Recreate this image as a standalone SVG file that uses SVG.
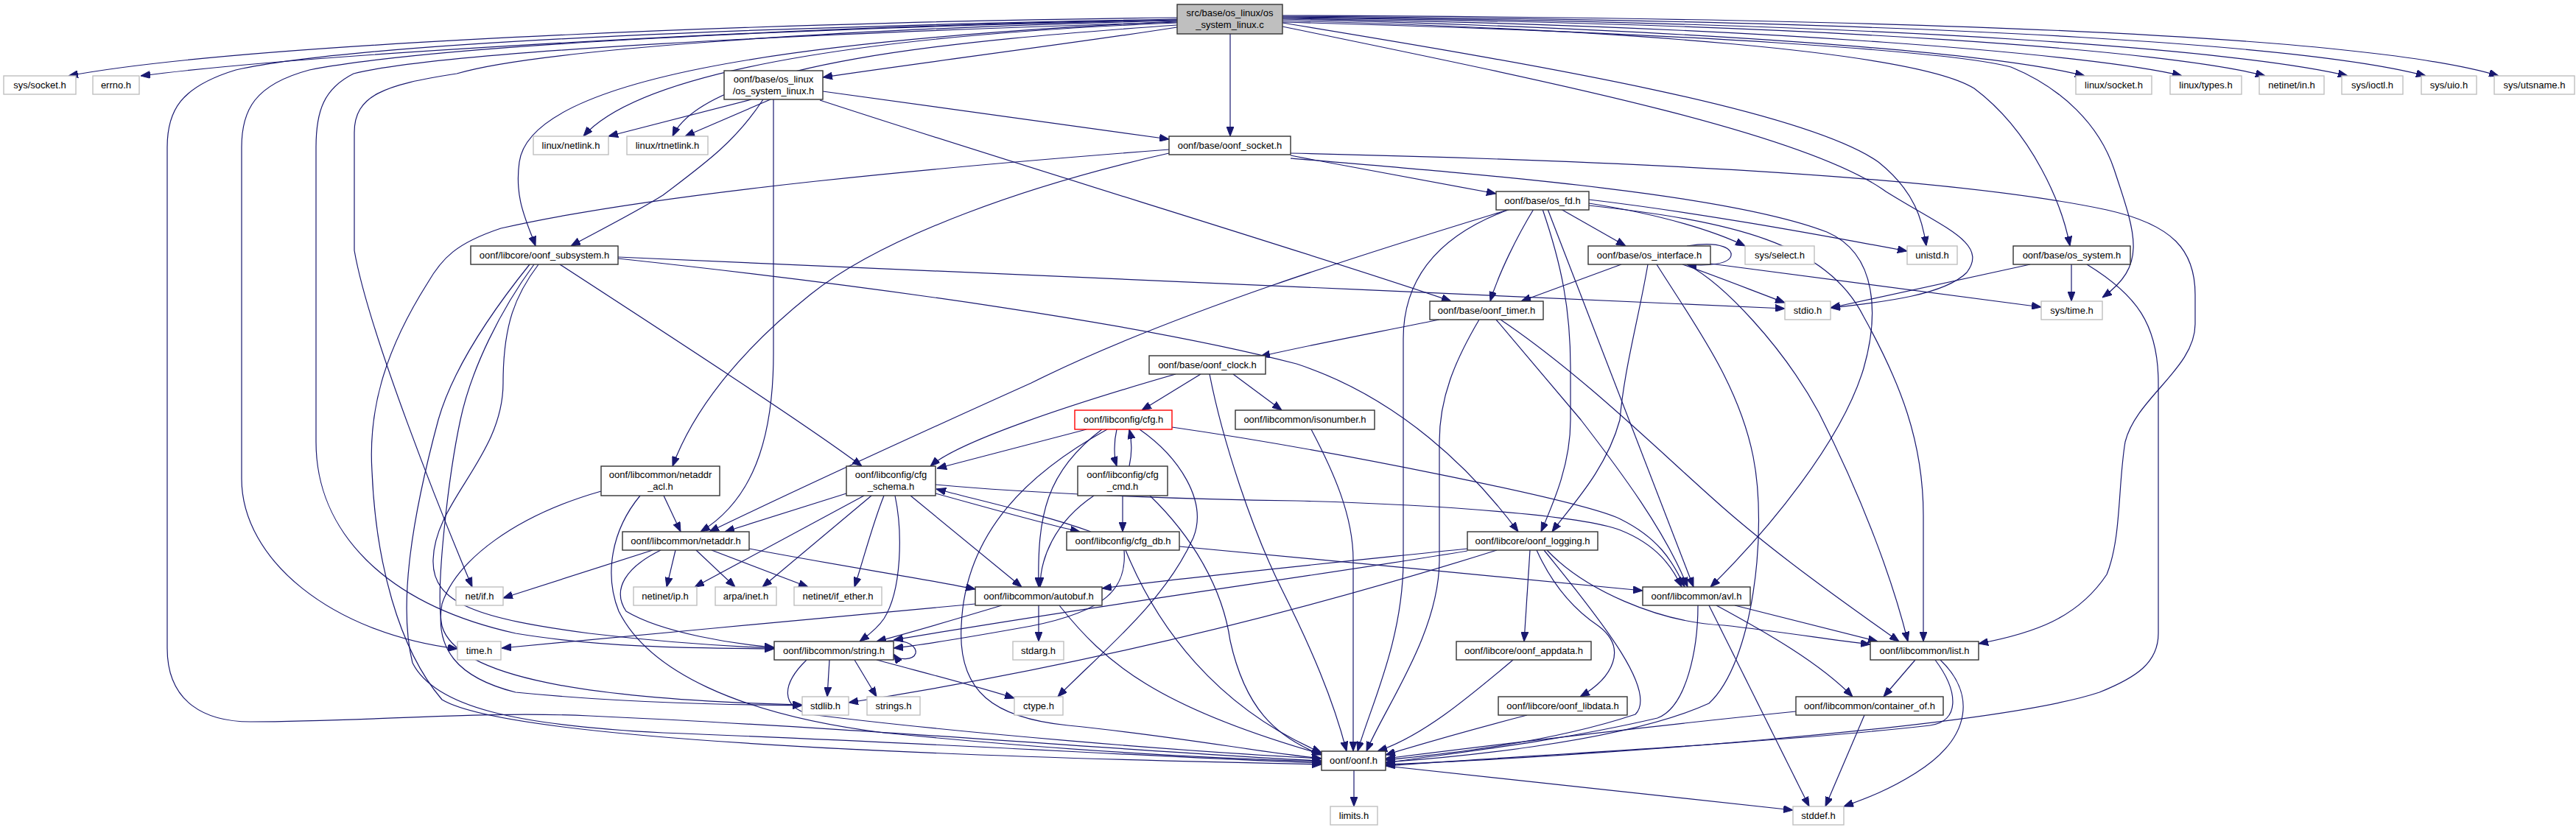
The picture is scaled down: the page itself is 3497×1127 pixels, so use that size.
<svg xmlns="http://www.w3.org/2000/svg" width="3497" height="1127" viewBox="0 0 3497 1127">
<style>
.nd rect{fill:#fff;stroke:#333;stroke-width:1.4}
.ex rect{fill:#fff;stroke:#bfbfbf;stroke-width:1.4}
.rd rect{fill:#fff;stroke:#ff0000;stroke-width:1.4}
.gy rect{fill:#bfbfbf;stroke:#333;stroke-width:1.4}
text{font-family:"Liberation Sans",Arial,sans-serif;font-size:13px;text-anchor:middle;fill:#000}
#edges path{fill:none;stroke:#191970;stroke-width:1.2;marker-end:url(#ah)}
</style>
<defs>
<marker id="ah" markerWidth="13" markerHeight="10" refX="13" refY="5" orient="auto" markerUnits="userSpaceOnUse">
<path d="M0,0 L13,5 L0,10 z" fill="#191970" stroke="#191970" stroke-width="1"/>
</marker>
</defs>
<rect width="3497" height="1127" fill="#fff"/>
<g id="edges">
<path d="M1598,24 C1150,28 350,55 93,103"/>
<path d="M1598,27 C1150,33 450,70 191,103"/>
<path d="M1598,37 C1450,60 1250,85 1117,105"/>
<path d="M1670,46 L1670,185"/>
<path d="M1598,31 C1250,45 880,85 792,185"/>
<path d="M1598,34 C1300,55 960,85 913,185"/>
<path d="M1598,29 C1050,55 720,110 705,220 C698,270 715,300 727,334"/>
<path d="M1598,28 C1100,40 720,70 620,100 C520,115 481,130 481,180 L481,340 C500,450 600,700 641,797"/>
<path d="M1598,27 C1100,38 600,60 420,95 C345,115 328,150 328,200 L328,650 C328,760 450,860 621,881"/>
<path d="M1598,30 C1100,45 600,70 480,100 C440,120 429,150 429,200 L429,600 C429,720 520,820 700,860 C820,880 950,880 1051,881"/>
<path d="M1598,26 C1100,35 500,55 320,95 C245,118 227,150 227,200 L227,880 C227,955 280,980 340,980 C500,980 650,965 800,972 C1200,990 1600,1025 1794,1033"/>
<path d="M1741,31 C2100,90 2450,150 2550,220 C2600,260 2610,300 2615,334"/>
<path d="M1741,36 C2100,110 2450,180 2560,260 C2640,310 2700,330 2670,370 C2640,400 2560,410 2485,418"/>
<path d="M1741,28 C2200,40 2600,70 2680,120 C2760,180 2800,280 2810,334"/>
<path d="M1741,30 C2300,45 2650,70 2730,91 C2800,120 2850,170 2870,230 C2900,320 2915,360 2854,404"/>
<path d="M1741,26 C2300,40 2700,70 2830,103"/>
<path d="M1741,25 C2400,35 2850,75 2962,103"/>
<path d="M1741,24 C2500,32 2950,70 3075,103"/>
<path d="M1741,23 C2600,30 3050,70 3187,103"/>
<path d="M1741,22 C2700,28 3150,65 3293,103"/>
<path d="M1741,21 C2800,25 3250,60 3392,103"/>
<path d="M1020,135 L826,185"/>
<path d="M1046,135 L930,185"/>
<path d="M1036,135 C1000,190 960,220 900,265 C860,290 800,320 775,334"/>
<path d="M1050,135 L1050,480 C1050,600 1020,680 951,722"/>
<path d="M1117,124 C1300,150 1450,170 1587,189"/>
<path d="M1113,136 C1400,230 1800,350 1970,409"/>
<path d="M760,359 C900,450 1100,580 1170,633"/>
<path d="M839,351 C1200,390 1550,440 1760,494 C1900,540 2000,640 2061,722"/>
<path d="M839,349 C1300,370 1900,395 2423,419"/>
<path d="M731,359 C700,400 683,440 683,520 C683,620 590,680 588,760 C586,820 650,840 800,860 C900,872 1000,878 1051,880"/>
<path d="M725,359 C680,420 640,500 625,570 C610,640 590,800 600,850 C620,920 800,950 1089,957"/>
<path d="M719,359 C670,420 615,500 595,570 C560,700 540,820 560,900 C590,960 700,985 900,995 C1300,1010 1600,1030 1794,1036"/>
<path d="M1752,211 C1850,230 1950,248 2031,263"/>
<path d="M1587,208 C1400,250 1200,320 1100,400 C1000,480 940,560 913,633"/>
<path d="M1587,203 C1300,225 900,260 680,310 C620,330 600,350 580,385 C520,480 500,560 505,640 C510,760 540,880 600,950 C700,1010 1400,1030 1794,1038"/>
<path d="M1752,208 C2200,218 2650,240 2860,285 C2950,305 2980,340 2980,400 L2980,440 C2980,500 2900,540 2885,600 C2875,660 2880,730 2860,780 C2820,840 2760,860 2686,874"/>
<path d="M1752,215 C2050,240 2350,265 2480,315 C2550,345 2550,430 2530,500 C2500,600 2400,720 2322,797"/>
<path d="M2119,284 L2207,334"/>
<path d="M2082,284 C2060,320 2035,370 2023,409"/>
<path d="M2050,284 C1900,330 1600,420 1400,520 C1200,610 1050,680 963,722"/>
<path d="M2050,284 C1950,320 1905,380 1905,460 L1905,760 C1905,870 1860,960 1843,1020"/>
<path d="M2094,284 C2120,360 2132,420 2132,500 L2132,570 C2132,630 2110,680 2092,722"/>
<path d="M2101,284 L2299,797"/>
<path d="M2157,279 C2350,300 2480,330 2530,430 C2580,520 2611,600 2611,700 L2611,871"/>
<path d="M2157,276 C2260,292 2330,315 2369,334"/>
<path d="M2157,271 C2300,288 2450,315 2589,341"/>
<path d="M2290,334 C2340,326 2352,340 2350,347 C2348,358 2320,362 2290,359"/>
<path d="M2201,359 L2065,409"/>
<path d="M2284,359 C2330,375 2380,395 2423,411"/>
<path d="M2322,358 C2500,380 2650,400 2771,417"/>
<path d="M2237,359 C2225,430 2205,500 2199,570 C2180,640 2130,690 2107,722"/>
<path d="M2249,359 C2300,440 2360,520 2380,620 C2400,720 2380,900 2320,955 C2200,1010 1950,1030 1881,1035"/>
<path d="M2290,359 C2340,385 2420,470 2469,560 C2530,680 2570,790 2590,871"/>
<path d="M2037,434 C2150,510 2260,620 2340,690 C2420,760 2520,830 2578,871"/>
<path d="M2031,434 L2146,570 C2200,640 2260,720 2291,797"/>
<path d="M1954,434 C1850,455 1770,470 1711,484"/>
<path d="M2008,434 C1975,490 1954,540 1954,600 L1954,760 C1954,860 1880,960 1855,1020"/>
<path d="M2756,359 L2485,418"/>
<path d="M2812,359 L2812,409"/>
<path d="M2833,359 C2900,400 2930,440 2930,520 L2930,860 C2930,900 2900,920 2850,940 C2700,990 2100,1030 1881,1038"/>
<path d="M1630,508 L1550,557"/>
<path d="M1674,508 L1740,557"/>
<path d="M1596,508 C1450,550 1300,600 1263,633"/>
<path d="M1642,508 C1660,600 1700,720 1740,800 C1780,880 1810,950 1828,1020"/>
<path d="M1516,583 C1512,600 1512,620 1516,633"/>
<path d="M1533,633 C1537,615 1537,600 1533,583"/>
<path d="M1475,583 L1272,636"/>
<path d="M1496,583 C1420,640 1408,700 1410,797"/>
<path d="M1503,583 C1400,640 1310,720 1305,850 C1300,940 1350,975 1450,985 C1600,1000 1700,1020 1794,1030"/>
<path d="M1547,583 C1600,620 1640,680 1620,730 C1580,820 1490,890 1436,946"/>
<path d="M1591,580 C1800,610 2150,680 2200,705 C2250,730 2270,760 2287,797"/>
<path d="M1780,583 C1810,640 1837,700 1837,760 L1837,1020"/>
<path d="M1524,673 L1524,722"/>
<path d="M1485,673 C1430,710 1412,760 1412,797"/>
<path d="M1561,673 C1620,730 1660,800 1670,870 C1690,960 1730,1000 1794,1025"/>
<path d="M1270,670 C1350,692 1420,712 1466,722"/>
<path d="M1481,722 C1420,700 1340,682 1271,664"/>
<path d="M1149,670 L984,722"/>
<path d="M1236,673 L1387,797"/>
<path d="M1215,673 C1225,720 1225,800 1200,840 C1190,855 1175,865 1167,871"/>
<path d="M1173,673 L943,797"/>
<path d="M1183,673 L1035,797"/>
<path d="M1200,673 C1185,710 1172,760 1160,797"/>
<path d="M1270,658 C1400,670 1600,678 1760,680 C1950,685 2150,700 2200,720 C2250,740 2270,770 2283,797"/>
<path d="M901,673 L924,722"/>
<path d="M869,673 C830,720 820,780 840,830 C880,910 1000,970 1200,995 C1450,1020 1650,1030 1794,1034"/>
<path d="M816,667 C700,700 620,760 600,820 C590,880 620,920 700,940 C850,955 1000,957 1089,958"/>
<path d="M886,747 L683,812"/>
<path d="M917,747 L905,797"/>
<path d="M945,747 L998,797"/>
<path d="M966,747 L1097,797"/>
<path d="M1017,745 C1150,770 1250,785 1324,800"/>
<path d="M897,747 C850,770 830,800 850,830 C900,860 1000,875 1051,879"/>
<path d="M1324,820 C1100,840 900,860 681,880"/>
<path d="M1360,822 C1300,840 1250,855 1190,871"/>
<path d="M1410,822 L1410,871"/>
<path d="M1438,822 C1500,900 1570,960 1794,1024"/>
<path d="M1526,747 C1530,800 1500,830 1400,850 C1300,868 1250,876 1213,880"/>
<path d="M1528,747 C1570,850 1650,960 1794,1022"/>
<path d="M1601,742 C1800,760 2050,785 2230,802"/>
<path d="M1992,745 C1800,765 1600,785 1496,799"/>
<path d="M1992,748 C1800,780 1500,820 1213,869"/>
<path d="M2032,747 C1800,820 1500,900 1152,954"/>
<path d="M2077,747 L2069,871"/>
<path d="M2086,747 C2110,800 2140,830 2170,850 C2210,880 2190,920 2145,946"/>
<path d="M2096,747 C2180,850 2250,940 2220,970 C2100,1010 1950,1025 1881,1032"/>
<path d="M2100,747 C2150,800 2250,845 2340,849 C2420,858 2480,868 2539,875"/>
<path d="M1200,871 C1235,866 1245,880 1243,887 C1240,896 1220,898 1213,888"/>
<path d="M1126,896 L1123,946"/>
<path d="M1160,896 L1190,946"/>
<path d="M1190,896 C1260,915 1320,930 1377,948"/>
<path d="M1095,896 C1060,930 1060,960 1100,970 C1300,995 1600,1020 1794,1030"/>
<path d="M2054,896 C1990,950 1930,1000 1870,1020"/>
<path d="M2073,971 C2000,990 1930,1010 1881,1025"/>
<path d="M2355,822 L2549,871"/>
<path d="M2330,822 C2400,860 2470,900 2515,946"/>
<path d="M2320,822 L2456,1095"/>
<path d="M2305,822 C2305,880 2290,960 2250,975 C2100,1010 1950,1025 1881,1036"/>
<path d="M2600,896 L2557,946"/>
<path d="M2634,896 C2680,940 2680,1000 2600,1050 C2560,1075 2530,1085 2503,1095"/>
<path d="M2627,896 C2660,940 2660,980 2620,985 C2400,1010 2000,1030 1881,1040"/>
<path d="M2438,966 C2200,990 2000,1015 1881,1030"/>
<path d="M2531,971 L2478,1095"/>
<path d="M1838,1046 L1838,1095"/>
<path d="M1881,1040 C2100,1065 2300,1085 2434,1100"/>
</g>
<g id="src" class="gy"><rect x="1598" y="6" width="143" height="40"/><text x="1669.5" y="22">src/base/os_linux/os</text><text x="1669.5" y="38">_system_linux.c</text></g>
<g id="sys_socket" class="ex"><rect x="5" y="103" width="98" height="25"/><text x="54" y="120">sys/socket.h</text></g>
<g id="errno" class="ex"><rect x="126" y="103" width="63" height="25"/><text x="157.5" y="120">errno.h</text></g>
<g id="os_system_linux" class="nd"><rect x="983" y="96" width="134" height="39"/><text x="1050" y="112">oonf/base/os_linux</text><text x="1050" y="128">/os_system_linux.h</text></g>
<g id="linux_socket" class="ex"><rect x="2818" y="103" width="103" height="25"/><text x="2869.5" y="120">linux/socket.h</text></g>
<g id="linux_types" class="ex"><rect x="2946" y="103" width="97" height="25"/><text x="2994.5" y="120">linux/types.h</text></g>
<g id="netinet_in" class="ex"><rect x="3067" y="103" width="88" height="25"/><text x="3111" y="120">netinet/in.h</text></g>
<g id="sys_ioctl" class="ex"><rect x="3179" y="103" width="83" height="25"/><text x="3220.5" y="120">sys/ioctl.h</text></g>
<g id="sys_uio" class="ex"><rect x="3287" y="103" width="75" height="25"/><text x="3324.5" y="120">sys/uio.h</text></g>
<g id="sys_utsname" class="ex"><rect x="3386" y="103" width="109" height="25"/><text x="3440.5" y="120">sys/utsname.h</text></g>
<g id="linux_netlink" class="ex"><rect x="724" y="185" width="102" height="25"/><text x="775" y="202">linux/netlink.h</text></g>
<g id="linux_rtnetlink" class="ex"><rect x="851" y="185" width="110" height="25"/><text x="906" y="202">linux/rtnetlink.h</text></g>
<g id="oonf_socket" class="nd"><rect x="1587" y="185" width="165" height="25"/><text x="1669.5" y="202">oonf/base/oonf_socket.h</text></g>
<g id="os_fd" class="nd"><rect x="2031" y="260" width="126" height="25"/><text x="2094" y="277">oonf/base/os_fd.h</text></g>
<g id="oonf_subsystem" class="nd"><rect x="639" y="334" width="200" height="25"/><text x="739" y="351">oonf/libcore/oonf_subsystem.h</text></g>
<g id="os_interface" class="nd"><rect x="2156" y="334" width="166" height="25"/><text x="2239" y="351">oonf/base/os_interface.h</text></g>
<g id="sys_select" class="ex"><rect x="2369" y="334" width="94" height="25"/><text x="2416" y="351">sys/select.h</text></g>
<g id="unistd" class="ex"><rect x="2589" y="334" width="68" height="25"/><text x="2623" y="351">unistd.h</text></g>
<g id="os_system" class="nd"><rect x="2733" y="334" width="159" height="25"/><text x="2812.5" y="351">oonf/base/os_system.h</text></g>
<g id="oonf_timer" class="nd"><rect x="1941" y="409" width="154" height="25"/><text x="2018" y="426">oonf/base/oonf_timer.h</text></g>
<g id="stdio" class="ex"><rect x="2423" y="409" width="62" height="25"/><text x="2454" y="426">stdio.h</text></g>
<g id="sys_time" class="ex"><rect x="2771" y="409" width="83" height="25"/><text x="2812.5" y="426">sys/time.h</text></g>
<g id="oonf_clock" class="nd"><rect x="1560" y="483" width="158" height="25"/><text x="1639" y="500">oonf/base/oonf_clock.h</text></g>
<g id="cfg" class="rd"><rect x="1459" y="557" width="132" height="26"/><text x="1525" y="574">oonf/libconfig/cfg.h</text></g>
<g id="isonumber" class="nd"><rect x="1677" y="557" width="189" height="26"/><text x="1771.5" y="574">oonf/libcommon/isonumber.h</text></g>
<g id="netaddr_acl" class="nd"><rect x="816" y="633" width="161" height="40"/><text x="896.5" y="649">oonf/libcommon/netaddr</text><text x="896.5" y="665">_acl.h</text></g>
<g id="cfg_schema" class="nd"><rect x="1149" y="633" width="121" height="40"/><text x="1209.5" y="649">oonf/libconfig/cfg</text><text x="1209.5" y="665">_schema.h</text></g>
<g id="cfg_cmd" class="nd"><rect x="1463" y="633" width="122" height="40"/><text x="1524" y="649">oonf/libconfig/cfg</text><text x="1524" y="665">_cmd.h</text></g>
<g id="netaddr" class="nd"><rect x="845" y="722" width="172" height="25"/><text x="931" y="739">oonf/libcommon/netaddr.h</text></g>
<g id="cfg_db" class="nd"><rect x="1448" y="722" width="153" height="25"/><text x="1524.5" y="739">oonf/libconfig/cfg_db.h</text></g>
<g id="oonf_logging" class="nd"><rect x="1992" y="722" width="177" height="25"/><text x="2080.5" y="739">oonf/libcore/oonf_logging.h</text></g>
<g id="net_if" class="ex"><rect x="619" y="797" width="64" height="25"/><text x="651" y="814">net/if.h</text></g>
<g id="netinet_ip" class="ex"><rect x="860" y="797" width="86" height="25"/><text x="903" y="814">netinet/ip.h</text></g>
<g id="arpa_inet" class="ex"><rect x="971" y="797" width="83" height="25"/><text x="1012.5" y="814">arpa/inet.h</text></g>
<g id="netinet_if_ether" class="ex"><rect x="1078" y="797" width="119" height="25"/><text x="1137.5" y="814">netinet/if_ether.h</text></g>
<g id="autobuf" class="nd"><rect x="1324" y="797" width="172" height="25"/><text x="1410" y="814">oonf/libcommon/autobuf.h</text></g>
<g id="avl" class="nd"><rect x="2230" y="797" width="146" height="25"/><text x="2303" y="814">oonf/libcommon/avl.h</text></g>
<g id="time" class="ex"><rect x="621" y="871" width="59" height="25"/><text x="650.5" y="888">time.h</text></g>
<g id="string" class="nd"><rect x="1051" y="871" width="162" height="25"/><text x="1132" y="888">oonf/libcommon/string.h</text></g>
<g id="stdarg" class="ex"><rect x="1375" y="871" width="69" height="25"/><text x="1409.5" y="888">stdarg.h</text></g>
<g id="oonf_appdata" class="nd"><rect x="1977" y="871" width="183" height="25"/><text x="2068.5" y="888">oonf/libcore/oonf_appdata.h</text></g>
<g id="list" class="nd"><rect x="2539" y="871" width="147" height="25"/><text x="2612.5" y="888">oonf/libcommon/list.h</text></g>
<g id="stdlib" class="ex"><rect x="1089" y="946" width="63" height="25"/><text x="1120.5" y="963">stdlib.h</text></g>
<g id="strings" class="ex"><rect x="1177" y="946" width="72" height="25"/><text x="1213" y="963">strings.h</text></g>
<g id="ctype" class="ex"><rect x="1377" y="946" width="66" height="25"/><text x="1410" y="963">ctype.h</text></g>
<g id="oonf_libdata" class="nd"><rect x="2034" y="946" width="175" height="25"/><text x="2121.5" y="963">oonf/libcore/oonf_libdata.h</text></g>
<g id="container_of" class="nd"><rect x="2438" y="946" width="200" height="25"/><text x="2538" y="963">oonf/libcommon/container_of.h</text></g>
<g id="oonf" class="nd"><rect x="1794" y="1020" width="87" height="26"/><text x="1837.5" y="1037">oonf/oonf.h</text></g>
<g id="limits" class="ex"><rect x="1806" y="1095" width="64" height="25"/><text x="1838" y="1112">limits.h</text></g>
<g id="stddef" class="ex"><rect x="2434" y="1095" width="69" height="25"/><text x="2468.5" y="1112">stddef.h</text></g>
</svg>
